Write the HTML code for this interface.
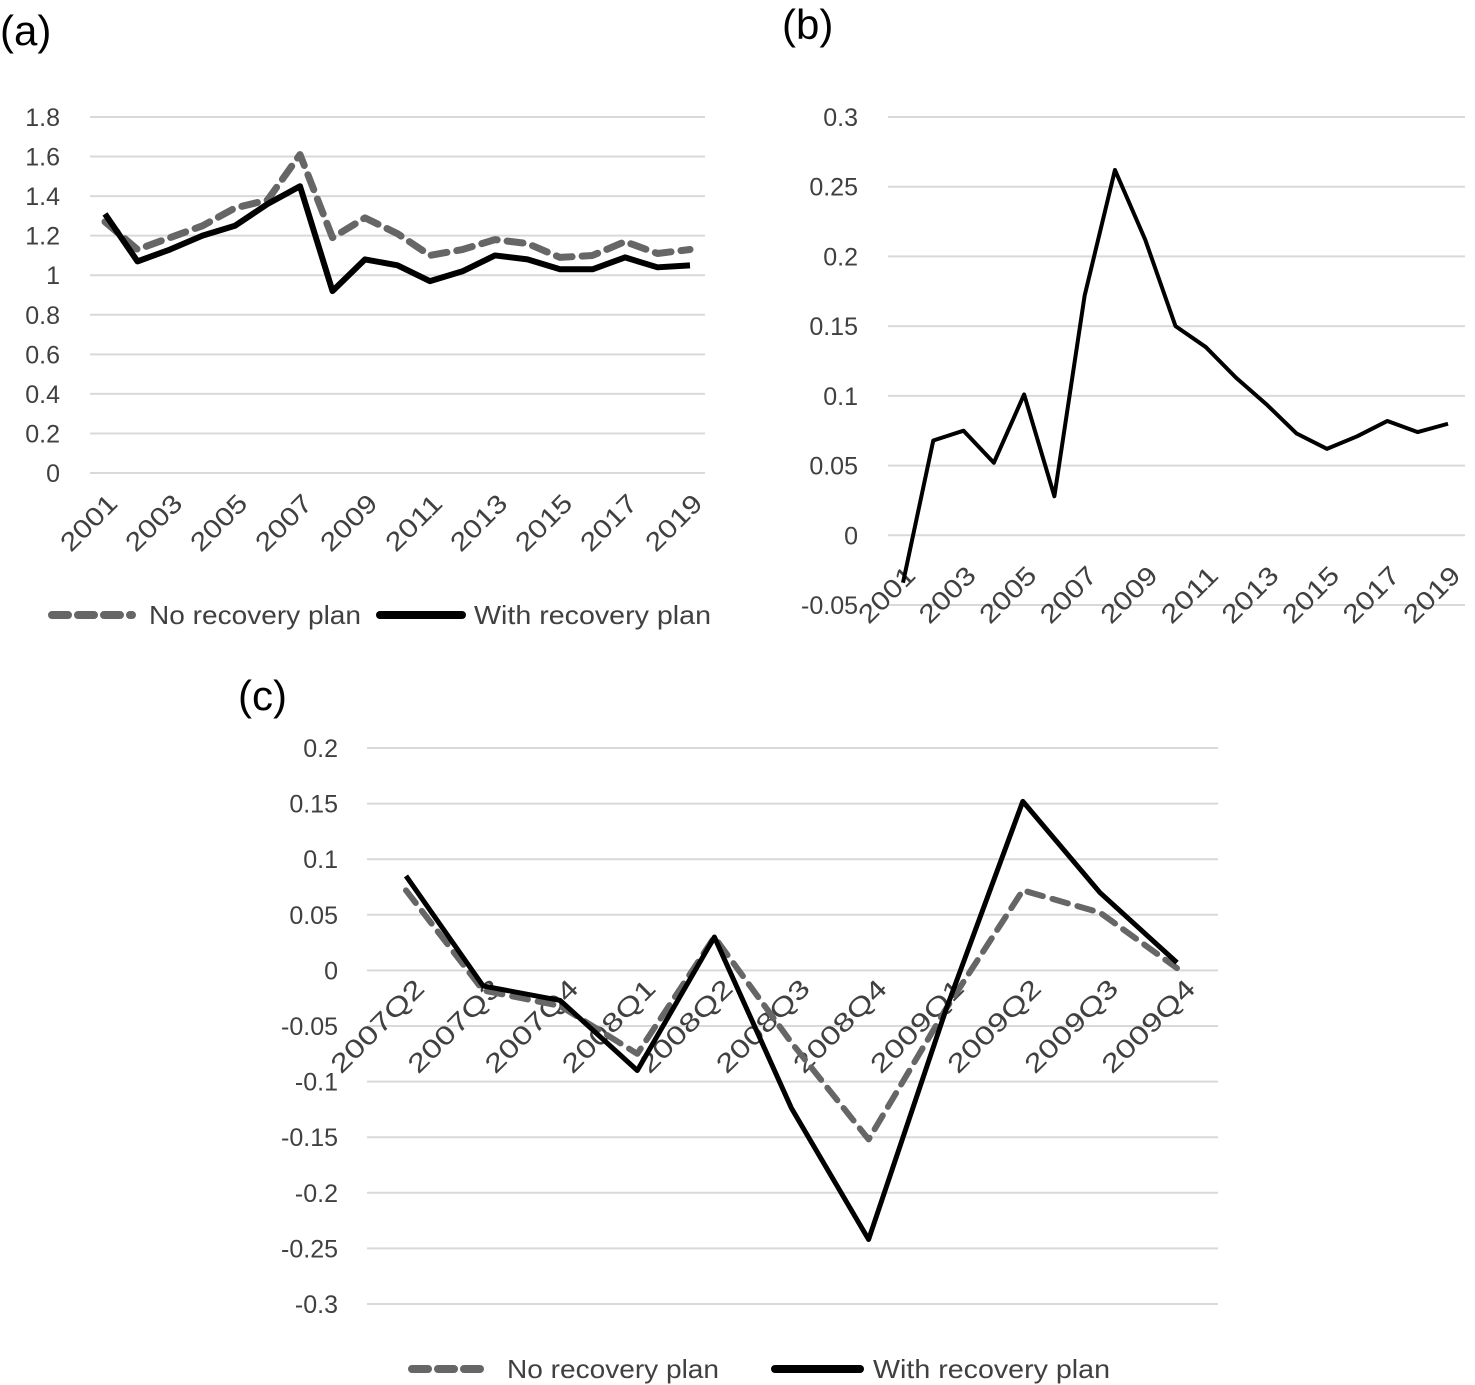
<!DOCTYPE html>
<html><head><meta charset="utf-8"><style>
html,body{margin:0;padding:0;background:#fff;}
svg{display:block;font-family:"Liberation Sans",sans-serif;}
</style></head><body>
<svg id="c" width="1475" height="1385" viewBox="0 0 1475 1385">
<text x="0" y="45" font-size="42" fill="#000">(a)</text>
<text x="782" y="39" font-size="42" fill="#000">(b)</text>
<text x="238" y="710" font-size="42" fill="#000">(c)</text>
<g>
<line x1="52" y1="615" x2="132" y2="615" stroke="#666" stroke-width="8" stroke-dasharray="16,10" stroke-linecap="round"/>
<text x="149" y="624" font-size="26" fill="#404040" textLength="212" lengthAdjust="spacingAndGlyphs">No recovery plan</text>
<line x1="380" y1="615" x2="462" y2="615" stroke="#000" stroke-width="8" stroke-linecap="round"/>
<text x="474" y="624" font-size="26" fill="#404040" textLength="237" lengthAdjust="spacingAndGlyphs">With recovery plan</text>
</g>
<g>
<line x1="412" y1="1369" x2="487" y2="1369" stroke="#666" stroke-width="8" stroke-dasharray="16,10" stroke-linecap="round"/>
<text x="507" y="1378" font-size="26" fill="#404040" textLength="212" lengthAdjust="spacingAndGlyphs">No recovery plan</text>
<line x1="775" y1="1369" x2="860" y2="1369" stroke="#000" stroke-width="8" stroke-linecap="round"/>
<text x="873" y="1378" font-size="26" fill="#404040" textLength="237" lengthAdjust="spacingAndGlyphs">With recovery plan</text>
</g>
</svg>
<script>
const yearsA = [2001,2002,2003,2004,2005,2006,2007,2008,2009,2010,2011,2012,2013,2014,2015,2016,2017,2018,2019];
const noPlanA = [1.27,1.13,1.19,1.25,1.34,1.38,1.61,1.19,1.29,1.21,1.10,1.13,1.18,1.16,1.09,1.10,1.17,1.11,1.13];
const withPlanA = [1.31,1.07,1.13,1.20,1.25,1.36,1.45,0.92,1.08,1.05,0.97,1.02,1.10,1.08,1.03,1.03,1.09,1.04,1.05];
const ticksA = ["0","0.2","0.4","0.6","0.8","1","1.2","1.4","1.6","1.8"];
const valuesB = [-0.034,0.068,0.075,0.052,0.101,0.028,0.172,0.262,0.212,0.150,0.135,0.113,0.094,0.073,0.062,0.071,0.082,0.074,0.080];
const ticksB = ["-0.05","0","0.05","0.1","0.15","0.2","0.25","0.3"];
const quartersC = ["2007Q2","2007Q3","2007Q4","2008Q1","2008Q2","2008Q3","2008Q4","2009Q1","2009Q2","2009Q3","2009Q4"];
const noPlanC = [0.072,-0.018,-0.032,-0.075,0.030,-0.065,-0.152,-0.035,0.072,0.052,0.002];
const withPlanC = [0.085,-0.014,-0.027,-0.090,0.030,-0.124,-0.242,-0.036,0.152,0.070,0.007];
const ticksC = ["-0.3","-0.25","-0.2","-0.15","-0.1","-0.05","0","0.05","0.1","0.15","0.2"];

const svg = document.getElementById('c');
const NS = 'http://www.w3.org/2000/svg';
function mk(tag, attrs, parent){const e=document.createElementNS(NS,tag);for(const k in attrs)e.setAttribute(k,attrs[k]);(parent||svg).appendChild(e);return e;}

function chart(o){
  const g = mk('g',{});
  
  
  const ymin=parseFloat(o.ticks[0]), ymax=parseFloat(o.ticks[o.ticks.length-1]);
  const Y=v=>o.y0+(v-ymin)/(ymax-ymin)*(o.y1-o.y0);
  const X=i=>o.xs+i*(o.xe-o.xs)/(o.n-1);
  o.ticks.forEach(t=>{
    const v=parseFloat(t), y=Y(v);
    const l=mk('line',{x1:o.gx0,x2:o.gx1,y1:y,y2:y,stroke:'#d9d9d9','stroke-width':2},g);
    
    
    const tx=mk('text',{x:o.tx,y:y+9,'font-size':25,fill:'#404040','text-anchor':'end'},g);
    
    
    tx.textContent=t;
  });
  o.labels.forEach((lab,i)=>{
    if(lab===null)return;
    const x=X(i)+o.lxo, y=o.ly;
    const t=mk('text',{x:x,y:y,'font-size':26,fill:'#404040','text-anchor':'end',textLength:o.tl,lengthAdjust:'spacingAndGlyphs',transform:`rotate(-45 ${x} ${y})`},g);
    
    
    t.textContent=lab;
  });
  o.series.forEach(s=>{
    const p=mk('polyline',{points:s.v.map((v,i)=>X(i)+','+Y(v)).join(' '),fill:'none',stroke:s.c,'stroke-width':s.w,'stroke-linejoin':'round','stroke-linecap':s.d?'round':'butt'},g);
    if(s.d)p.setAttribute('stroke-dasharray',s.d);
    
    
  });
}
chart({name:'chart-a',ticks:ticksA,y0:473,y1:117,xs:105,xe:690,n:yearsA.length,gx0:90,gx1:705,tx:60,
  labels:yearsA.map((y,i)=>i%2===0?String(y):null),lxo:14,ly:505,tl:68,
  series:[{v:noPlanA,c:'#666',w:7,d:'16,10',name:'no-plan-line-a'},{v:withPlanA,c:'#000',w:6,name:'with-plan-line-a'}]});
chart({name:'chart-b',ticks:ticksB,y0:605,y1:117,xs:903,xe:1448,n:valuesB.length,gx0:888,gx1:1465,tx:858,
  labels:yearsA.map((y,i)=>i%2===0?String(y):null),lxo:14,ly:577,tl:68,
  series:[{v:valuesB,c:'#000',w:4,name:'line-b'}]});
chart({name:'chart-c',ticks:ticksC,y0:1304,y1:748,xs:406,xe:1177,n:quartersC.length,gx0:367,gx1:1218,tx:338,
  labels:quartersC,lxo:20,ly:990,tl:120,
  series:[{v:noPlanC,c:'#666',w:6,d:'16,10',name:'no-plan-line-c'},{v:withPlanC,c:'#000',w:5,name:'with-plan-line-c'}]});
</script>
</body></html>
